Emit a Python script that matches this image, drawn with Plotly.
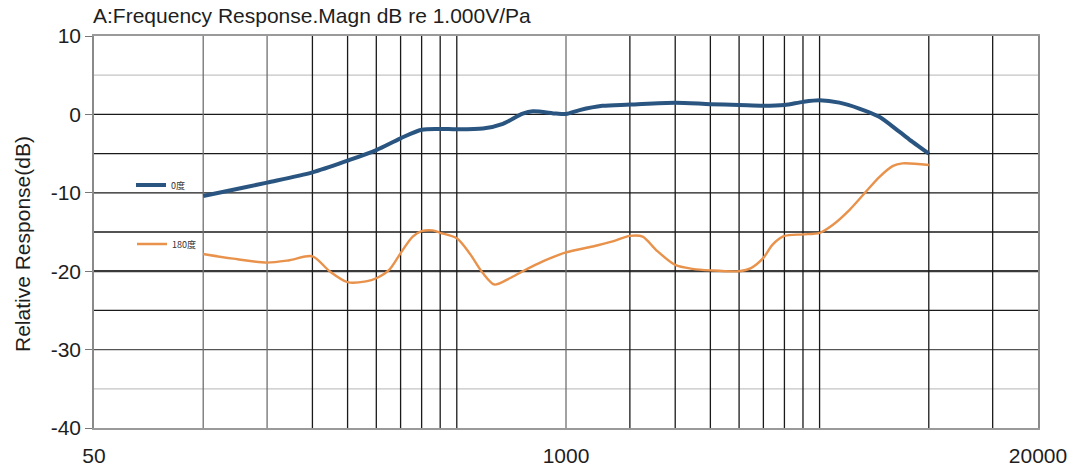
import plotly.graph_objects as go

# ---- data ----
freq_0 = [100, 113, 150, 200, 250, 300, 350, 400, 450, 500, 590, 670, 760, 810, 940, 1000,
          1090, 1260, 1500, 2000, 2500, 3000, 3500, 4000, 4500, 5000, 5670, 6430, 7300,
          8290, 9020, 10000]
resp_0 = [-10.4, -9.9, -8.7, -7.4, -5.9, -4.55, -3.05, -1.95, -1.85, -1.9, -1.8, -1.2, 0.1,
          0.4, 0.1, 0.05, 0.55, 1.1, 1.25, 1.5, 1.3, 1.2, 1.1, 1.2, 1.6, 1.8, 1.5, 0.75,
          -0.3, -2.2, -3.5, -5.0]

freq_180 = [100, 121, 150, 173, 200, 223, 250, 281, 300, 326, 350, 378, 400, 429, 450, 500,
            542, 589, 635, 699, 760, 863, 1000, 1185, 1345, 1500, 1627, 1772, 2000, 2234,
            2500, 3000, 3236, 3500, 3711, 4000, 4500, 5000, 5433, 6039, 6712, 7303, 7945,
            8465, 10000]
resp_180 = [-17.8, -18.4, -18.9, -18.6, -18.1, -20.0, -21.4, -21.3, -20.9, -19.8, -17.7,
            -15.6, -14.9, -14.8, -15.1, -15.8, -17.7, -20.2, -21.7, -20.9, -20.0, -18.75,
            -17.6, -16.85, -16.2, -15.5, -15.6, -17.3, -19.2, -19.7, -19.9, -20.0, -19.6,
            -18.3, -16.6, -15.5, -15.3, -15.1, -14.1, -12.2, -9.85, -8.0, -6.6, -6.25, -6.45]

series_names = ["0度", "180度"]
x_tick_vals = [50, 1000, 20000]
x_tick_text = ["50", "1000", "20000"]
y_tick_vals = [10, 0, -10, -20, -30, -40]
y_tick_text = ["10", "0", "-10", "-20", "-30", "-40"]

grid_freqs_light = [100, 150, 1000]
grid_freqs_dark = [200, 250, 300, 350, 400, 450, 500, 1500, 2000, 2500, 3000, 3500,
                   4000, 4500, 5000, 10000, 15000]
grid_db_black = [0, -5, -10, -15, -25]
grid_db_heavy = [-20]
grid_db_mid = [-30]
grid_db_light = [5, -35]

X_MIN, X_MAX = 50, 20000
Y_MIN, Y_MAX = -40, 10

FONT = "Liberation Sans, Arial, sans-serif"
CJK = "Noto Sans CJK SC, sans-serif"

fig = go.Figure()


def vlines(freqs, color, width):
    xs, ys = [], []
    for f in freqs:
        xs += [f, f, None]
        ys += [Y_MIN, Y_MAX, None]
    fig.add_trace(go.Scatter(x=xs, y=ys, mode="lines", line=dict(color=color, width=width),
                             showlegend=False, hoverinfo="skip"))


def hlines(levels, color, width):
    xs, ys = [], []
    for v in levels:
        xs += [X_MIN, X_MAX, None]
        ys += [v, v, None]
    fig.add_trace(go.Scatter(x=xs, y=ys, mode="lines", line=dict(color=color, width=width),
                             showlegend=False, hoverinfo="skip"))


hlines(grid_db_light, "#c4c4c4", 1.2)
hlines(grid_db_mid, "#555555", 1.2)
hlines(grid_db_black, "#1a1a1a", 1.3)
hlines(grid_db_heavy, "#3a3a3a", 2.2)
vlines(grid_freqs_light, "#707070", 1.3)
vlines(grid_freqs_dark, "#1a1a1a", 1.3)

fig.add_trace(go.Scatter(
    x=freq_180, y=resp_180, mode="lines", name=series_names[1],
    line=dict(color="#e8924c", width=2.4, shape="spline", smoothing=0.8),
    legend="legend2"))
fig.add_trace(go.Scatter(
    x=freq_0, y=resp_0, mode="lines", name=series_names[0],
    line=dict(color="#2a5581", width=4, shape="spline", smoothing=0.8),
    legend="legend"))

fig.update_layout(
    width=1073, height=468,
    margin=dict(l=94, r=35, t=36, b=40, autoexpand=False),
    paper_bgcolor="white", plot_bgcolor="white",
    font=dict(family=FONT, color="#1e1e1e"),
    title=dict(text="A:Frequency Response.Magn dB re 1.000V/Pa",
               x=93 / 1073, xanchor="left", xref="container",
               y=1 - 16 / 468, yanchor="middle", yref="container",
               font=dict(size=21, family=FONT, color="#1e1e1e")),
    xaxis=dict(type="log", range=[1.69897, 4.30103],
               tickvals=x_tick_vals, ticktext=x_tick_text,
               showgrid=False, zeroline=False,
               ticks="outside", ticklen=8, tickcolor="rgba(0,0,0,0)",
               tickfont=dict(size=21, family=FONT, color="#1e1e1e"),
               showline=True, linecolor="#9a9a9a", linewidth=1.5, mirror=True,
               automargin=False),
    yaxis=dict(range=[Y_MIN, Y_MAX], tickvals=y_tick_vals, ticktext=y_tick_text,
               showgrid=False, zeroline=False,
               ticks="outside", ticklen=7, tickcolor="#777777", tickwidth=1.3,
               tickfont=dict(size=21, family=FONT, color="#1e1e1e"),
               showline=True, linecolor="#8a8a8a", linewidth=1.6, mirror=True,
               automargin=False),
    legend=dict(x=(131 - 94) / 944, xanchor="left", y=(428 - 185) / 392, yanchor="middle",
                bgcolor="rgba(0,0,0,0)", borderwidth=0,
                font=dict(size=9, family=CJK, color="#333333"),
                itemwidth=30),
    legend2=dict(x=(132 - 94) / 944, xanchor="left", y=(428 - 244) / 392, yanchor="middle",
                 bgcolor="rgba(0,0,0,0)", borderwidth=0,
                 font=dict(size=9, family=CJK, color="#333333"),
                 itemwidth=30),
    annotations=[dict(text="Relative Response(dB)", textangle=-90,
                      xref="paper", yref="paper",
                      x=(23 - 94) / 944, y=(428 - 244) / 392,
                      xanchor="center", yanchor="middle", showarrow=False,
                      font=dict(size=21, family=FONT, color="#1e1e1e"))],
)

fig.write_html("out.html", config={"displayModeBar": False},
               post_script="document.body.style.margin='0';document.body.style.overflow='hidden';")
